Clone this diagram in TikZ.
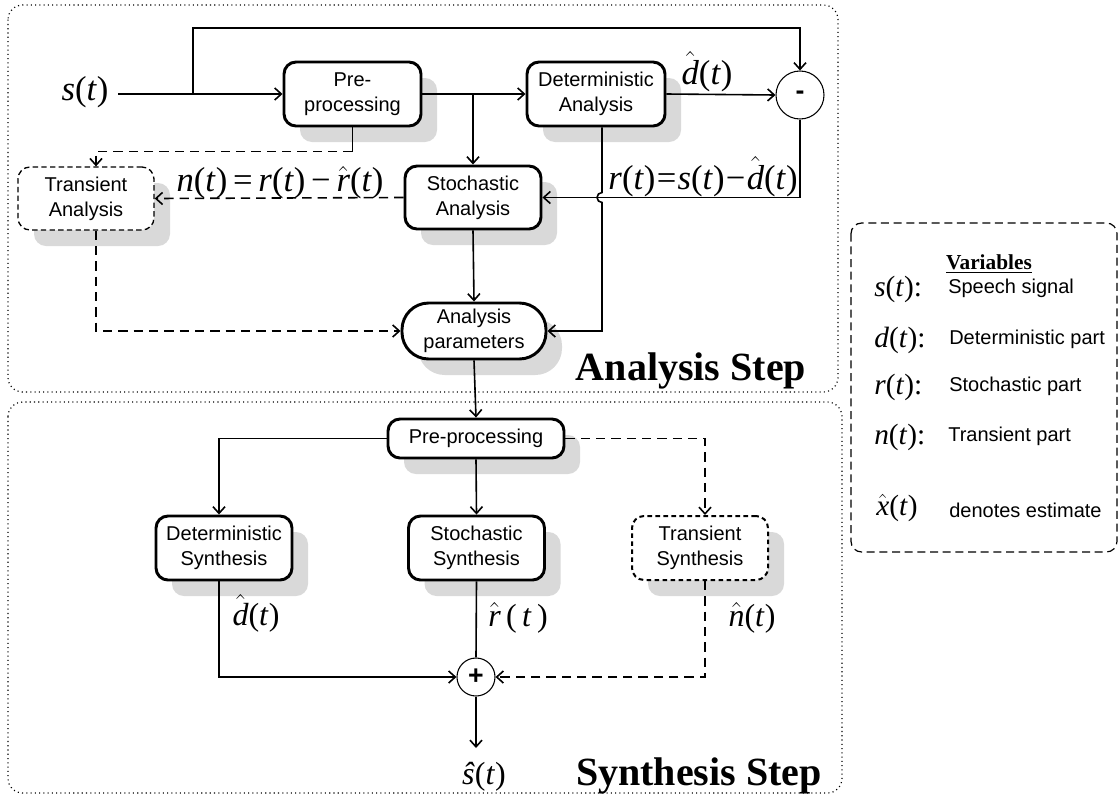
\documentclass[tikz,border=0pt]{standalone}
\usepackage{fontspec}
\setmainfont{Liberation Serif}
\newfontfamily\arial{Liberation Sans}
\usetikzlibrary{arrows.meta,calc,shadows}
\newcommand\mathlbl{\fontsize{24}{28}\selectfont}
\newcommand\biglbl{\fontsize{26}{30}\selectfont}
\newcommand\hatv[1]{\ensuremath{\hat{\hbox{\itshape #1}}}}
\begin{document}
\begin{tikzpicture}[x=0.75pt,y=-0.75pt,
  sz/.style 2 args={minimum width=#1*0.75pt, minimum height=#2*0.75pt},
  box/.style={draw, line width=2.2pt, rounded corners=9pt, fill=white,
    font=\arial\fontsize{15}{19}\selectfont, align=center, inner sep=0pt,
    general shadow={fill=black!15, shadow xshift=12pt, shadow yshift=-12pt}},
  tbox/.style={box, line width=1pt, dash pattern=on 4pt off 2.5pt},
  tsbox/.style={box, line width=1.5pt, dash pattern=on 3.5pt off 2.5pt},
  opbox/.style={draw, circle, line width=0.8pt, fill=white, inner sep=0pt,
    font=\arial\bfseries\fontsize{20}{20}\selectfont},
  conn/.style={line width=1.2pt},
  arr/.style={conn, -{Straight Barb[length=5pt,width=9pt,line width=1.2pt]}},
  dsh/.style={dash pattern=on 7pt off 4.5pt},
  lbl/.style={font=\mathlbl, inner sep=0pt},
  blbl/.style={font=\biglbl, inner sep=0pt},
  region/.style={line width=0.9pt, dash pattern=on 0.8pt off 2.4pt, rounded corners=11pt},
  steplbl/.style={font=\bfseries\fontsize{30}{34}\selectfont, inner sep=0pt},
  legtxt/.style={font=\arial\fontsize{15}{18}\selectfont, anchor=west, inner sep=0pt},
  leglbl/.style={font=\fontsize{22}{26}\selectfont, anchor=west, inner sep=0pt}
]
\useasboundingbox (0,0) rectangle (1120,800);

% regions
\draw[region] (8,5) rectangle (838,392);
\draw[region] (8,402) rectangle (842,793);
\draw[line width=0.9pt, dash pattern=on 6pt off 3.5pt, rounded corners=8pt] (851,223) rectangle (1117,552);

% analysis nodes
\node[box, sz={137}{64}] (pre) at (352.5,94) {Pre-\\processing};
\node[box, sz={138}{64}] (det) at (596,94) {Deterministic\\Analysis};
\node[box, sz={136}{63}] (stoch) at (473,197.5) {Stochastic\\Analysis};
\node[tbox, sz={136}{63}] (trans) at (86,198.5) {Transient\\Analysis};
\node[box, sz={144}{56}, rounded corners=20pt] (par) at (474,331) {Analysis\\parameters};
\node[opbox, minimum size=36pt] (minus) at (800,95) {-};

% synthesis nodes
\node[box, sz={176}{39}] (spre) at (476,438.5) {Pre-processing};
\node[box, sz={136}{64}] (dsyn) at (224,548) {Deterministic\\Synthesis};
\node[box, sz={136}{64}] (ssyn) at (476.5,548) {Stochastic\\Synthesis};
\node[tsbox, sz={136}{64}] (tsyn) at (700,548) {Transient\\Synthesis};
\node[opbox, minimum size=28.5pt] (plus) at (476,677) {+};

% labels
\node[blbl] (sl) at (85,92) {\textit{s}(\textit{t})};
\node[blbl] (dhl) at (707,72) {\hatv{d}(\textit{t})};
\node[blbl] (nl) at (280,183) {\textit{n}(\textit{t})\,=\,\textit{r}(\textit{t})\,−\,\hatv{r}(\textit{t})};
\node[blbl] (rl) at (703,177) {\textit{r}(\textit{t})\kern1pt=\kern1pt\textit{s}(\textit{t})\kern1pt−\kern1pt\hatv{d}(\textit{t})};
\node[lbl] (dsl) at (256,613) {\hatv{d}(\textit{t})};
\node[lbl] (rsl) at (518,618) {\hatv{r}\,(\,\textit{t}\,)};
\node[lbl] (nsl) at (752,618) {\hatv{n}(\textit{t})};
\node[lbl] (shl) at (484,777) {\textit{ŝ}(\textit{t})};
\node[steplbl, anchor=base] (ast) at (691,380) {Analysis Step};
\node[steplbl, anchor=base] (sst) at (699,785) {Synthesis Step};

% legend
\node[font=\bfseries\fontsize{16}{18}\selectfont, inner sep=0pt] (vt) at (989,264) {\underline{Variables}};
\node[leglbl] (l1) at (874,289) {\textit{s}(\textit{t}):};
\node[legtxt] (t1) at (948,288) {Speech signal};
\node[leglbl] (l2) at (874,340) {\textit{d}(\textit{t}):};
\node[legtxt] (t2) at (949,339) {Deterministic part};
\node[leglbl] (l3) at (874,387) {\textit{r}(\textit{t}):};
\node[legtxt] (t3) at (949,386) {Stochastic part};
\node[leglbl] (l4) at (874,437) {\textit{n}(\textit{t}):};
\node[legtxt] (t4) at (948,436) {Transient part};
\node[leglbl] (l5) at (876,508) {\hatv{x}(\textit{t})};
\node[legtxt] (t5) at (949,510) {denotes estimate};

% analysis connectors
\coordinate (sin) at (118,94);
\coordinate (b1) at (193,94);
\coordinate (topy) at (0,28);
\draw[arr] (sin) -- (pre.west);
\draw[arr] (b1) -- (b1 |- topy) -- (topy -| minus.north) -- (minus.north);
\draw[arr] (pre.east) -- (det.west);
\draw[arr] (pre.east -| stoch.north) -- (stoch.north);
\draw[arr] (det.east) -- (minus.west);
\coordinate (hop) at (602,197.5);
\draw[arr] (minus.south) -- (minus.south |- stoch.east) -- (stoch.east);
\coordinate (v1) at ($(det.south)+(6,0)$);
\draw[arr] (v1) -- ($(hop)+(0,-5)$) arc[start angle=90, end angle=270, radius=3.75pt] -- (v1 |- par.east) -- (par.east);
\draw[arr] (stoch.south) -- (par.north);
\draw[conn] (pre.south) -- ++(0,24) coordinate (pd);
\coordinate (tn) at ($(trans.north)+(10,0)$);
\draw[arr, dsh] (pd) -| (tn);
\draw[arr, dsh] (stoch.west) -- (trans.east);
\coordinate (ts) at ($(trans.south)+(10,0)$);
\draw[arr, dsh] (ts) |- (par.west);
\draw[arr] (par.south) -- (spre.north);

% synthesis connectors
\coordinate (dn) at ($(dsyn.north)+(-5,0)$);
\coordinate (ds) at ($(dsyn.south)+(-5,0)$);
\coordinate (tsn) at ($(tsyn.north)+(5,0)$);
\coordinate (tss) at ($(tsyn.south)+(5,0)$);
\draw[arr] (spre.west) -| (dn);
\draw[arr] (spre.south) -- (ssyn.north);
\draw[arr, dsh] (spre.east) -| (tsn);
\draw[arr] (ds) |- (plus.west);
\draw[conn] (ssyn.south) -- (plus.north);
\draw[arr, dsh] (tss) |- (plus.east);
\coordinate (sout) at (476,748);
\draw[arr] (plus.south) -- (sout);
\end{tikzpicture}
\end{document}
